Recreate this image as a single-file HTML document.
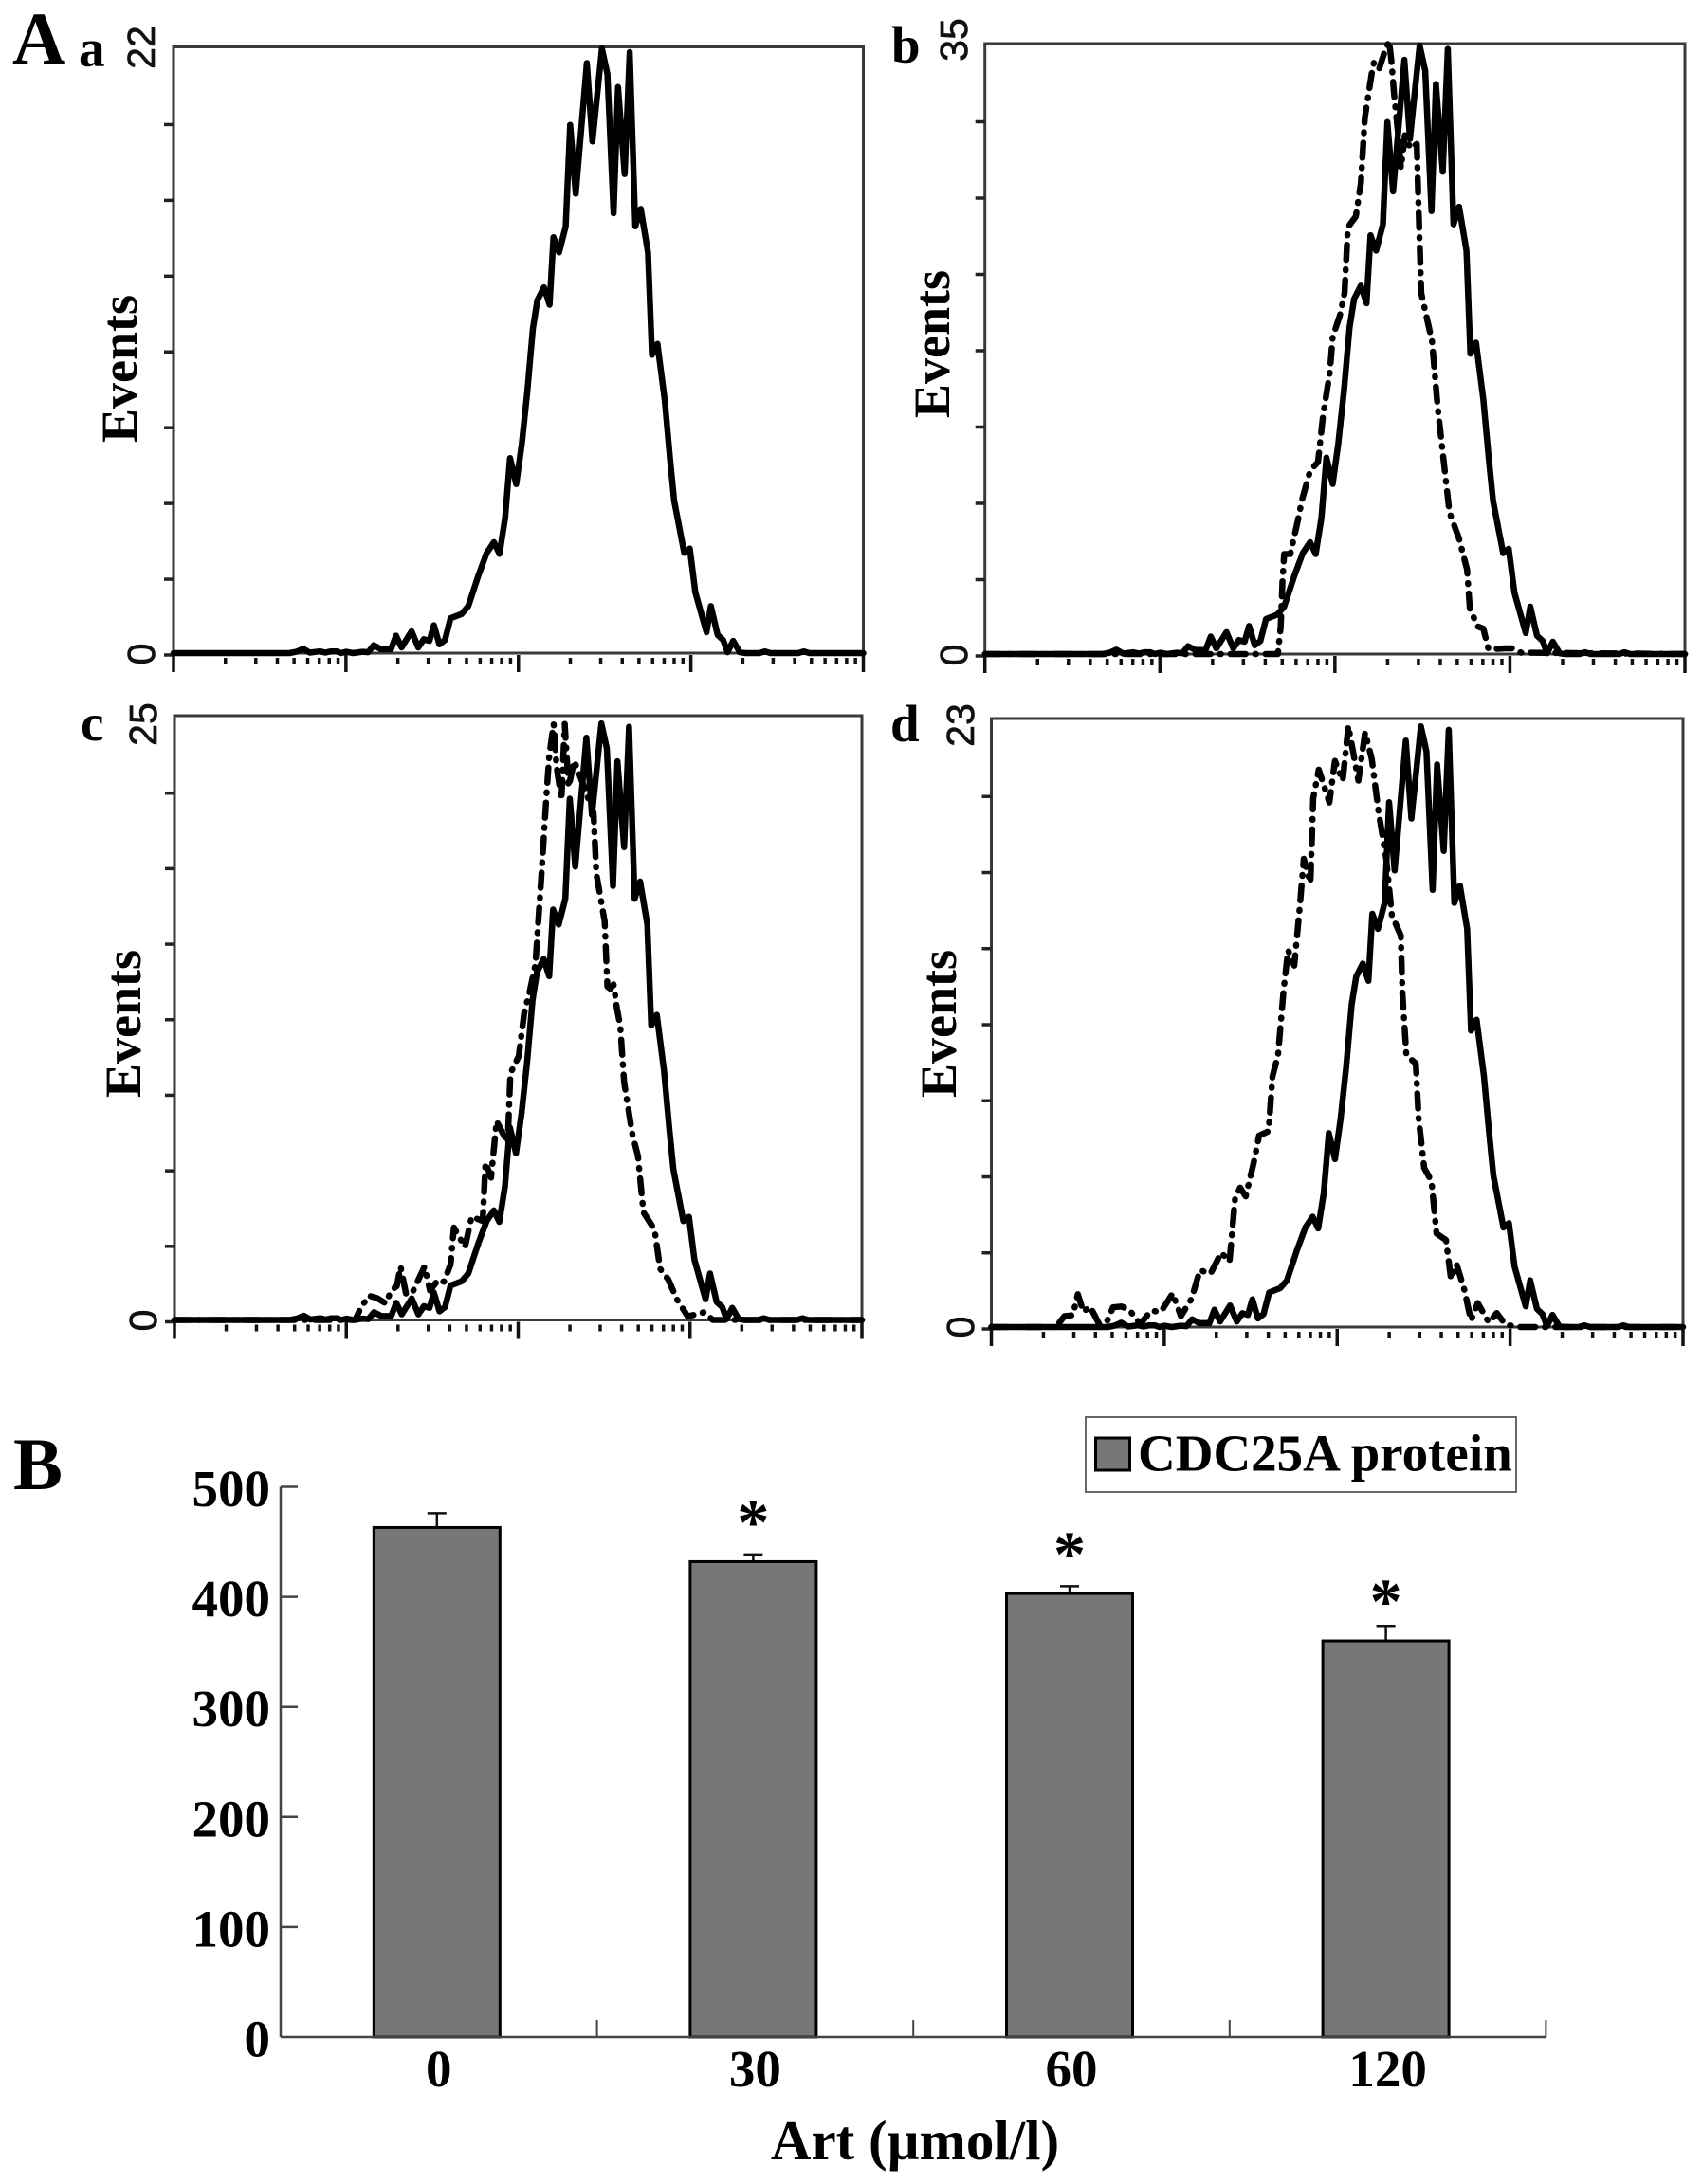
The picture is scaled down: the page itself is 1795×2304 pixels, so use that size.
<!DOCTYPE html>
<html lang="en">
<head>
<meta charset="utf-8">
<title>CDC25A protein flow cytometry histograms and bar chart</title>
<style>
  html, body { margin: 0; padding: 0; background: #fff; }
  svg { display: block; }
  .serif { font-family: "Liberation Serif", serif; font-weight: bold; fill: #000; }
  .sans { font-family: "Liberation Sans", sans-serif; fill: #111; stroke: #111; stroke-width: 0.7; }
</style>
</head>
<body>
<svg id="figure" xmlns="http://www.w3.org/2000/svg" width="1795" height="2304" viewBox="0 0 1795 2304">
  <rect width="1795" height="2304" fill="#fff"/>
  <text class="serif" x="13" y="67" font-size="78">A</text>
  <text class="serif" x="14" y="1571" font-size="78">B</text>
  <g id="histograms"></g>
  <g id="barchart"></g>
</svg>
<script>
// ---- Histogram data (channel 0-1240 spans 4 log decades; count 1392 = axis top) ----
const channelFullScale = 1240;
const countFullScale = 1392;
const panelIds = ['a', 'b', 'c', 'd'];
const panelMaxEvents = [22, 35, 25, 23];
const logDecades = [0, 1, 2, 3, 4];
const minorMultipliers = [2, 3, 4, 5, 6, 7, 8, 9];

const controlChannels = [0,208,221,233,245,263,273,283,293,301,310,323,340,350,360,373,391,400,410,428,440,450,460,468,478,488,498,518,530,548,563,576,586,596,605,616,626,636,646,654,666,676,683,693,705,713,723,743,753,770,780,791,799,811,820,830,840,853,860,870,883,893,900,918,928,938,958,966,978,988,996,1006,1018,1028,1053,1063,1073,1123,1133,1143,1240];
const controlCounts = [0,0,3,10,1,4,1,4,4,0,3,0,3,2,18,9,9,40,13,50,13,32,28,64,20,30,80,90,108,178,230,255,228,310,448,388,480,600,745,810,840,800,955,920,980,1213,1055,1355,1175,1388,1330,1010,1300,1100,1380,980,1020,920,685,710,580,440,350,230,240,140,48,108,42,30,2,28,2,0,0,4,0,0,4,0,0];

const treatedBChannels = [0,519,524,527,530,541,554,562,576,590,599,611,616,629,637,643,657,666,673,685,689,698,708,716,720,725,733,737,744,754,765,768,773,792,802,816,823,840,854,859,873,883,892,921,935,950,964,1240];
const treatedBCounts = [0,0,63,163,228,228,303,353,418,438,543,643,723,773,823,973,998,1073,1223,1323,1348,1333,1373,1398,1353,1273,1173,1108,1183,1153,1163,1023,823,713,563,403,323,263,193,103,63,58,11,13,13,3,3,0];

const treatedCChannels = [0,326,336,351,366,381,391,401,408,418,431,451,461,476,486,498,504,524,536,556,561,571,581,601,606,621,631,641,651,661,671,676,684,689,698,704,711,721,736,756,761,776,781,786,792,798,804,811,826,836,846,866,876,891,906,926,941,956,971,1240];
const treatedCCounts = [0,0,28,56,50,38,68,78,123,58,68,123,68,93,88,128,213,168,238,228,363,328,458,408,568,608,708,758,818,1008,1208,1298,1373,1278,1198,1373,1228,1288,1238,1168,1028,918,768,763,773,718,678,548,428,378,248,208,118,93,48,8,13,18,0,0];

const treatedDChannels = [0,116,131,146,155,165,177,194,208,218,233,247,267,286,304,325,340,359,374,393,412,427,437,446,456,470,480,497,504,514,524,532,543,553,560,572,577,587,606,616,630,640,658,670,682,694,708,718,734,737,744,761,766,776,789,798,815,824,834,848,860,872,892,906,921,941,1240];
const treatedDCounts = [0,0,25,27,75,35,47,5,15,45,47,40,7,37,35,77,25,65,130,122,170,150,295,319,299,374,438,448,573,622,772,862,827,961,1071,1016,1210,1275,1200,1295,1250,1375,1250,1360,1300,1180,1071,942,896,762,622,603,478,364,334,214,199,110,144,85,15,55,10,32,7,0,0];

// ---- Bar chart data ----
const barCategories = ['0', '30', '60', '120'];
const barValues = [463, 432, 403, 360];
const barErrors = [13, 6.5, 6.7, 13.6];
const barSignificant = [false, true, true, true];
const barTickLabels = [0, 100, 200, 300, 400, 500];

// ---- Layout ----
const NS = 'http://www.w3.org/2000/svg';
const histLayouts = {
  a: { left: 183, right: 910.5, top: 49.5, bottom: 689, controlScale: 1, labelX: 83, labelY: 69.5, tickLabelX: 163, maxLabelY: 50, zeroLabelY: 690, titleX: 144, titleY: 389 },
  b: { left: 1038.7, right: 1777, top: 46, bottom: 690, controlScale: 1, labelX: 940, labelY: 66, tickLabelX: 1020, maxLabelY: 42, zeroLabelY: 691, titleX: 1001, titleY: 363 },
  c: { left: 184, right: 909, top: 755, bottom: 1392.5, controlScale: 0.99, labelX: 85, labelY: 781, tickLabelX: 165, maxLabelY: 764, zeroLabelY: 1393, titleX: 148, titleY: 1080 },
  d: { left: 1045.5, right: 1775, top: 758, bottom: 1400, controlScale: 0.99, labelX: 939, labelY: 782, tickLabelX: 1027, maxLabelY: 765, zeroLabelY: 1400, titleX: 1008, titleY: 1080 }
};
const treatedSeries = {
  b: { channels: treatedBChannels, counts: treatedBCounts },
  c: { channels: treatedCChannels, counts: treatedCCounts },
  d: { channels: treatedDChannels, counts: treatedDCounts }
};

function make(tag, attrs, parent) {
  const node = document.createElementNS(NS, tag);
  Object.keys(attrs).forEach(function (k) { node.setAttribute(k, attrs[k]); });
  parent.appendChild(node);
  return node;
}

function tracePath(channels, counts, xScale, yScale, factor) {
  return channels.map(function (c, i) {
    return (i ? 'L' : 'M') + xScale(c).toFixed(1) + ' ' + yScale(counts[i] * factor).toFixed(1);
  }).join(' ');
}

const histRoot = document.getElementById('histograms');

panelIds.forEach(function (id, idx) {
  const box = histLayouts[id];
  const g = make('g', {}, histRoot);
  
  

  const xScale = function (c) { return box.left + (c / channelFullScale) * (box.right - box.left); };
  const yScale = function (n) { return box.bottom - (n / countFullScale) * (box.bottom - box.top); };
  const decadeX = function (d) { return box.left + (d / 4) * (box.right - box.left); };

  const frame = make('rect', { x: box.left, y: box.top, width: box.right - box.left, height: box.bottom - box.top, fill: 'none', stroke: '#3a3a3a', 'stroke-width': 3 }, g);
  
  

  // y ticks: eight equal divisions
  for (let i = 0; i < 8; i++) {
    const ty = box.bottom + 2 - (i / 8) * (box.bottom - box.top);
    const yTick = make('line', { x1: box.left - 10, x2: box.left, y1: ty, y2: ty, stroke: '#222', 'stroke-width': 3.5 }, g);
    
    
  }

  // log x ticks
  logDecades.forEach(function (d) {
    const mx = Math.min(decadeX(d), box.right);
    const major = make('line', { x1: mx, x2: mx, y1: box.bottom + 2, y2: box.bottom + 20, stroke: '#111', 'stroke-width': 3.5 }, g);
    
    
    if (d === logDecades[logDecades.length - 1]) return;
    minorMultipliers.forEach(function (m) {
      const x = decadeX(d + Math.log10(m));
      const minor = make('line', { x1: x, x2: x, y1: box.bottom + 5, y2: box.bottom + 12, stroke: '#111', 'stroke-width': 3.5 }, g);
      
      
    });
  });

  // rotated tick labels
  const maxLabel = make('text', { class: 'sans', x: box.tickLabelX, y: box.maxLabelY, 'font-size': 41, 'text-anchor': 'middle', transform: 'rotate(-90 ' + box.tickLabelX + ' ' + box.maxLabelY + ')' }, g);
  maxLabel.textContent = String(panelMaxEvents[idx]);
  
  

  const zeroLabel = make('text', { class: 'sans', x: box.tickLabelX, y: box.zeroLabelY, 'font-size': 41, 'text-anchor': 'middle', transform: 'rotate(-90 ' + box.tickLabelX + ' ' + box.zeroLabelY + ')' }, g);
  zeroLabel.textContent = '0';
  
  

  const title = make('text', { class: 'serif', x: box.titleX, y: box.titleY, 'font-size': 54, 'text-anchor': 'middle', transform: 'rotate(-90 ' + box.titleX + ' ' + box.titleY + ')' }, g);
  title.textContent = 'Events';
  
  

  const letter = make('text', { class: 'serif', x: box.labelX, y: box.labelY, 'font-size': 55 }, g);
  letter.textContent = id;
  
  

  // treated trace (dash-dot)
  const treated = treatedSeries[id];
  if (treated) {
    const dashed = make('path', { d: tracePath(treated.channels, treated.counts, xScale, yScale, 1), fill: 'none', stroke: '#000', 'stroke-width': 6.5, 'stroke-linecap': 'round', 'stroke-linejoin': 'round', 'stroke-dasharray': '16 10 1 10' }, g);
    
    
  }

  // control trace (solid)
  const solid = make('path', { d: tracePath(controlChannels, controlCounts, xScale, yScale, box.controlScale), fill: 'none', stroke: '#000', 'stroke-width': 6.5, 'stroke-linecap': 'round', 'stroke-linejoin': 'round' }, g);
  
  
});

// ---- Bar chart ----
const barRoot = document.getElementById('barchart');
const axisLeft = 296;
const axisBase = 2149;
const pxPerUnit = 1.161;
const bandWidth = 333.6;
const barWidth = 133;
const valueY = function (v) { return axisBase - v * pxPerUnit; };
const bandCenter = function (i) { return axisLeft - 2 + (i + 0.5) * bandWidth; };

barCategories.forEach(function (cat, i) {
  const cx = bandCenter(i);
  const topY = valueY(barValues[i]);
  const capY = valueY(barValues[i] + barErrors[i]);

  const stem = make('line', { x1: cx, x2: cx, y1: topY, y2: capY, stroke: '#111', 'stroke-width': 2.5 }, barRoot);
  
  

  const cap = make('line', { x1: cx - 10, x2: cx + 10, y1: capY, y2: capY, stroke: '#111', 'stroke-width': 2.5 }, barRoot);
  
  

  const bar = make('rect', { x: cx - barWidth / 2, y: topY, width: barWidth, height: axisBase - topY, fill: '#777', stroke: '#000', 'stroke-width': 3 }, barRoot);
  
  

  const catLabel = make('text', { class: 'serif', x: cx + 2, y: 2201, 'font-size': 55, 'text-anchor': 'middle' }, barRoot);
  catLabel.textContent = cat;
  
  

  if (barSignificant[i]) {
    const star = make('text', { x: cx, y: topY - 19, 'font-size': 68, 'font-weight': 'bold', 'text-anchor': 'middle', 'font-family': '"Liberation Serif", serif', fill: '#000' }, barRoot);
    star.textContent = '*';
    
    
  }

  const boundaryX = axisLeft + (i + 1) * bandWidth;
  const xTick = make('line', { x1: boundaryX, x2: boundaryX, y1: axisBase, y2: axisBase - 18, stroke: '#444', 'stroke-width': 2 }, barRoot);
  
  
});

const xAxis = make('line', { x1: axisLeft, x2: axisLeft + barCategories.length * bandWidth, y1: axisBase, y2: axisBase, stroke: '#444', 'stroke-width': 2.5 }, barRoot);



const yAxis = make('line', { x1: axisLeft, x2: axisLeft, y1: valueY(barTickLabels[barTickLabels.length - 1]), y2: axisBase, stroke: '#444', 'stroke-width': 2.5 }, barRoot);



barTickLabels.forEach(function (v) {
  const ty = valueY(v);
  if (v !== 0) {
    const yTick = make('line', { x1: axisLeft, x2: axisLeft + 18, y1: ty, y2: ty, stroke: '#444', 'stroke-width': 2.5 }, barRoot);
    
    
  }
  const yLabel = make('text', { class: 'serif', x: 285, y: ty + 20.5, 'font-size': 55, 'text-anchor': 'end' }, barRoot);
  yLabel.textContent = String(v);
  
  
});

const xTitle = make('text', { class: 'serif', x: 965, y: 2278, 'font-size': 59, 'text-anchor': 'middle' }, barRoot);
xTitle.textContent = 'Art (\u00B5mol/l)';



const legend = make('g', {}, barRoot);



const legendBox = make('rect', { x: 1145, y: 1495, width: 454, height: 79, fill: '#fff', stroke: '#666', 'stroke-width': 2 }, legend);



const legendSwatch = make('rect', { x: 1155.5, y: 1517, width: 36, height: 34, fill: '#777', stroke: '#000', 'stroke-width': 3 }, legend);



const legendText = make('text', { class: 'serif', x: 1200, y: 1551.5, 'font-size': 55 }, legend);
legendText.textContent = 'CDC25A protein';


</script>
</body>
</html>
